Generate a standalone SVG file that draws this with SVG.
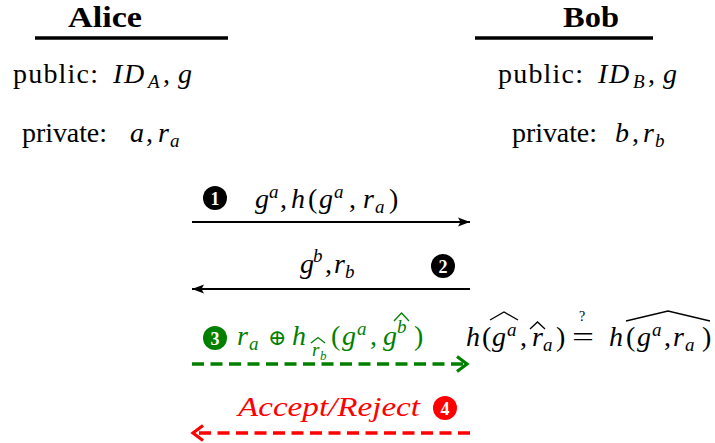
<svg xmlns="http://www.w3.org/2000/svg" width="715" height="443" viewBox="0 0 715 443">
<style>
text{font-family:"Liberation Serif","Times New Roman",serif;font-size:28px;fill:#000}
.b{font-weight:bold;font-size:29px}
.i{font-style:italic}
.s{font-size:19px}
.ss{font-size:13px}
.op{font-family:"DejaVu Serif","Liberation Serif",serif;font-size:22px}
.num{font-weight:bold;font-size:18px;fill:#fff;text-anchor:middle}
.g text{fill:#008000}
.r text{fill:#ff0000}
.hat{fill:none;stroke-width:1.3;stroke-linejoin:miter}
</style>
<defs>
<marker id="tipB" markerUnits="userSpaceOnUse" markerWidth="16" markerHeight="12" refX="12" refY="5" orient="auto">
<path d="M0,0.5 L12,5 L0,9.5 L2.5,5 Z" fill="#000"/>
</marker>
<marker id="tipG" markerUnits="userSpaceOnUse" markerWidth="16" markerHeight="20" refX="11" refY="9" orient="auto">
<path d="M1,1.5 L11,9 L1,16.5" fill="none" stroke="#008000" stroke-width="3.2"/>
</marker>
<marker id="tipR" markerUnits="userSpaceOnUse" markerWidth="16" markerHeight="20" refX="11" refY="9" orient="auto">
<path d="M1,1.5 L11,9 L1,16.5" fill="none" stroke="#ff0000" stroke-width="3.2"/>
</marker>
</defs>

<g id="alice">
<text class="b" x="68" y="27" textLength="74" lengthAdjust="spacingAndGlyphs">Alice</text>
<line x1="35" y1="38" x2="228" y2="38" stroke="#000" stroke-width="3.5"/>
<text x="13" y="83" textLength="85" lengthAdjust="spacing">public:</text>
<text class="i" x="113" y="83">I</text>
<text class="i" x="124" y="83">D</text>
<text class="i s" x="148" y="88">A</text>
<text x="163" y="83">,</text>
<text class="i" x="178" y="83">g</text>
<text x="22" y="142" textLength="85" lengthAdjust="spacing">private:</text>
<text class="i" x="130" y="142">a</text>
<text x="146" y="142">,</text>
<text class="i" x="158" y="142">r</text>
<text class="i s" x="170" y="147">a</text>
</g>

<g id="bob">
<text class="b" x="563" y="27" textLength="56" lengthAdjust="spacingAndGlyphs">Bob</text>
<line x1="475" y1="38" x2="653" y2="38" stroke="#000" stroke-width="3.5"/>
<text x="498" y="83" textLength="85" lengthAdjust="spacing">public:</text>
<text class="i" x="598" y="83">I</text>
<text class="i" x="609" y="83">D</text>
<text class="i s" x="633" y="88">B</text>
<text x="648" y="83">,</text>
<text class="i" x="663" y="83">g</text>
<text x="512" y="142" textLength="85" lengthAdjust="spacing">private:</text>
<text class="i" x="615" y="142">b</text>
<text x="632" y="142">,</text>
<text class="i" x="643" y="142">r</text>
<text class="i s" x="655" y="147">b</text>
</g>

<g id="connectors">
<line x1="192" y1="222" x2="470" y2="222" stroke="#000" stroke-width="2" marker-end="url(#tipB)"/>
<line x1="470" y1="289" x2="192" y2="289" stroke="#000" stroke-width="2" marker-end="url(#tipB)"/>
<line x1="192" y1="364" x2="467" y2="364" stroke="#008000" stroke-width="3.5" stroke-dasharray="12 6.5" marker-end="url(#tipG)"/>
<line x1="470" y1="433" x2="193" y2="433" stroke="#ff0000" stroke-width="3.5" stroke-dasharray="12 6.5" marker-end="url(#tipR)"/>
</g>

<g id="msg1">
<circle cx="215" cy="198" r="12" fill="#000"/>
<text class="num" x="215" y="204.5">1</text>
<text class="i" x="255" y="208">g</text>
<text class="i s" x="269" y="198">a</text>
<text x="280" y="208">,</text>
<text class="i" x="291" y="208">h</text>
<text x="308" y="208">(</text>
<text class="i" x="319" y="208">g</text>
<text class="i s" x="334" y="198">a</text>
<text x="349" y="208">,</text>
<text class="i" x="363" y="208">r</text>
<text class="i s" x="375" y="213">a</text>
<text x="389" y="208">)</text>
</g>

<g id="msg2">
<circle cx="443" cy="266" r="12" fill="#000"/>
<text class="num" x="443" y="272.5">2</text>
<text class="i" x="300" y="273">g</text>
<text class="i s" x="313" y="262">b</text>
<text x="325" y="273">,</text>
<text class="i" x="334" y="273">r</text>
<text class="i s" x="345" y="278">b</text>
</g>

<g id="msg3" class="g">
<circle cx="215" cy="338" r="12" fill="#008000"/>
<text class="num" x="215" y="344.5" style="fill:#fff">3</text>
<text class="i" x="237" y="345">r</text>
<text class="i s" x="249" y="350">a</text>
<text class="op" x="268" y="345">⊕</text>
<text class="i" x="292" y="345">h</text>
<text class="i s" x="312" y="356">r</text>
<text class="i ss" x="320" y="360">b</text>
<path class="hat" d="M311,343 L318,337.5 L325,343" stroke="#008000"/>
<text x="331" y="345">(</text>
<text class="i" x="342" y="345">g</text>
<text class="i s" x="357" y="335">a</text>
<text x="370" y="345">,</text>
<text class="i" x="383" y="345">g</text>
<text class="i s" x="397" y="333">b</text>
<path class="hat" d="M394,321 L401.5,313 L409,321" stroke="#008000"/>
<text x="414" y="345">)</text>
</g>

<g id="check">
<text class="i" x="466" y="346">h</text>
<text x="482" y="346">(</text>
<text class="i" x="492" y="346">g</text>
<text class="i s" x="507" y="336">a</text>
<path class="hat" d="M490,320 L504,312 L518,320" stroke="#000"/>
<text x="520" y="346">,</text>
<text class="i" x="532" y="346">r</text>
<path class="hat" d="M530,329 L537.5,322 L545,329" stroke="#000"/>
<text class="i s" x="543" y="351">a</text>
<text x="556" y="346">)</text>
<text x="572" y="346" textLength="22" lengthAdjust="spacingAndGlyphs">=</text>
<text style="font-size:14px" x="579" y="321">?</text>
<text class="i" x="609" y="346">h</text>
<text x="626" y="346">(</text>
<text class="i" x="637" y="346">g</text>
<text class="i s" x="652" y="336">a</text>
<text x="664" y="346">,</text>
<text class="i" x="673" y="346">r</text>
<text class="i s" x="685" y="351">a</text>
<text x="702" y="346">)</text>
<path class="hat" d="M626,321 L668,311 L710,321" stroke="#000"/>
</g>

<g id="msg4" class="r">
<text class="i" x="238" y="416" textLength="182" lengthAdjust="spacingAndGlyphs">Accept/Reject</text>
<circle cx="445" cy="408" r="12" fill="#ff0000"/>
<text class="num" x="445" y="414.5" style="fill:#fff">4</text>
</g>
</svg>
